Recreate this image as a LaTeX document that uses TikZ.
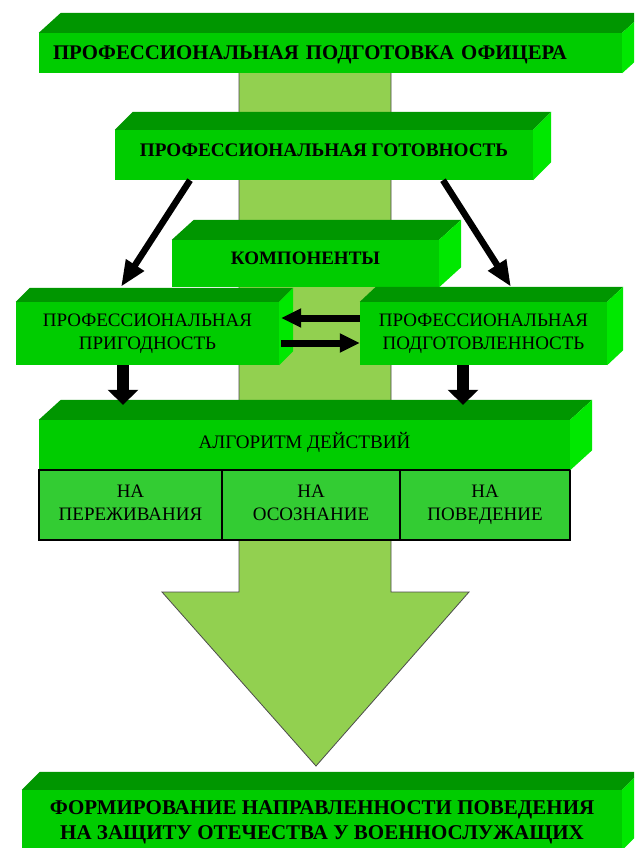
\documentclass[tikz,border=0pt]{standalone}
\usepackage{fontspec}
\setmainfont{Liberation Serif}
\usepackage{tikz}
\usepackage{xcolor}
\usetikzlibrary{arrows.meta}

\definecolor{slabfront}{RGB}{0,204,0}
\definecolor{slabtop}{RGB}{0,150,0}
\definecolor{slabside}{RGB}{0,232,0}
\definecolor{cellgreen}{RGB}{51,204,51}
\definecolor{shaftgreen}{RGB}{146,208,80}

\begin{document}
\begin{tikzpicture}[x=1pt,y=-1pt,
    slab/.style={fill=slabfront, inner sep=0pt, align=center},
    cell/.style={fill=cellgreen, draw=black, line width=1.2pt, inner sep=0pt, align=center, minimum height=70pt, text depth=5pt, font=\fontsize{19}{23}\selectfont},
    slant/.style={line width=6.5pt, -{Triangle[length=26pt,width=20pt]}},
    swap/.style={line width=7pt, -{Triangle[length=20pt,width=18pt]}},
    drop/.style={line width=12pt, -{Triangle[length=15pt,width=30pt]}}]
\clip (0,0) rectangle (634,848);
\fill[white] (0,0) rectangle (634,848);

\draw[fill=shaftgreen, draw=black!70, line width=0.8pt] (239,60) -- (239,592) -- (162,592) -- (316,766) -- (469,592) -- (391,592) -- (391,60) -- cycle;

\node[slab, minimum width=583pt, minimum height=40pt, text width=555pt, inner xsep=14pt, align=left, text depth=0pt, font=\bfseries\fontsize{20.8}{25}\selectfont] (officer) at (330.5,53) {ПРОФЕССИОНАЛЬНАЯ ПОДГОТОВКА ОФИЦЕРА};
\node[slab, minimum width=418pt, minimum height=50pt, text depth=10pt, font=\bfseries\fontsize{19.2}{23}\selectfont] (readiness) at (324,155) {ПРОФЕССИОНАЛЬНАЯ ГОТОВНОСТЬ};
\node[slab, minimum width=267pt, minimum height=47pt, text depth=10pt, font=\bfseries\fontsize{19}{23}\selectfont] (parts) at (305.5,263.5) {КОМПОНЕНТЫ};
\node[slab, minimum width=263pt, minimum height=63pt, font=\fontsize{19}{23}\selectfont] (fit) at (147.5,333.5) {ПРОФЕССИОНАЛЬНАЯ\\ПРИГОДНОСТЬ};
\node[slab, minimum width=247pt, minimum height=63pt, font=\fontsize{19}{23}\selectfont] (prep) at (483.5,333.5) {ПРОФЕССИОНАЛЬНАЯ\\ПОДГОТОВЛЕННОСТЬ};
\node[slab, minimum width=531pt, minimum height=50pt, text depth=10pt, font=\fontsize{19.1}{22}\selectfont] (algo) at (304.5,445) {АЛГОРИТМ ДЕЙСТВИЙ};
\node[slab, minimum width=600pt, minimum height=60pt, text depth=0pt, font=\bfseries\fontsize{21}{25}\selectfont] (goal) at (322,820) {ФОРМИРОВАНИЕ НАПРАВЛЕННОСТИ ПОВЕДЕНИЯ\\НА ЗАЩИТУ ОТЕЧЕСТВА У ВОЕННОСЛУЖАЩИХ};

\node[cell, minimum width=183pt] (feel) at (130.5,505) {НА\\ПЕРЕЖИВАНИЯ};
\node[cell, minimum width=178pt] (aware) at (311,505) {НА\\ОСОЗНАНИЕ};
\node[cell, minimum width=170pt] (act) at (485,505) {НА\\ПОВЕДЕНИЕ};

\foreach \n/\dpx/\dpy in {officer/22/20, readiness/18/18, parts/22/20, fit/14/14, prep/16/15, algo/22/20, goal/18/18} {
    \fill[slabtop] (\n.north west) -- ++(\dpx,-\dpy) -- ([shift={(\dpx,-\dpy)}]\n.north east) -- (\n.north east) -- cycle;
    \fill[slabside] (\n.north east) -- ++(\dpx,-\dpy) -- ([shift={(\dpx,-\dpy)}]\n.south east) -- (\n.south east) -- cycle;
}

\draw[slant] ([xshift=-134pt]readiness.south) -- ([xshift=-26.5pt,yshift=15pt]fit.north);
\draw[slant] ([xshift=119pt]readiness.south) -- ([xshift=27.5pt,yshift=15pt]prep.north);
\draw[swap] ([yshift=15.5pt]prep.west) -- ([xshift=2pt,yshift=15.5pt]fit.east);
\draw[swap] ([xshift=2pt,yshift=-9.5pt]fit.east) -- ([yshift=-9.5pt]prep.west);
\draw[drop] ([xshift=-24.5pt]fit.south) -- ([xshift=-181.5pt,yshift=15pt]algo.north);
\draw[drop] ([xshift=-20.5pt]prep.south) -- ([xshift=158.5pt,yshift=15pt]algo.north);
\end{tikzpicture}
\end{document}
